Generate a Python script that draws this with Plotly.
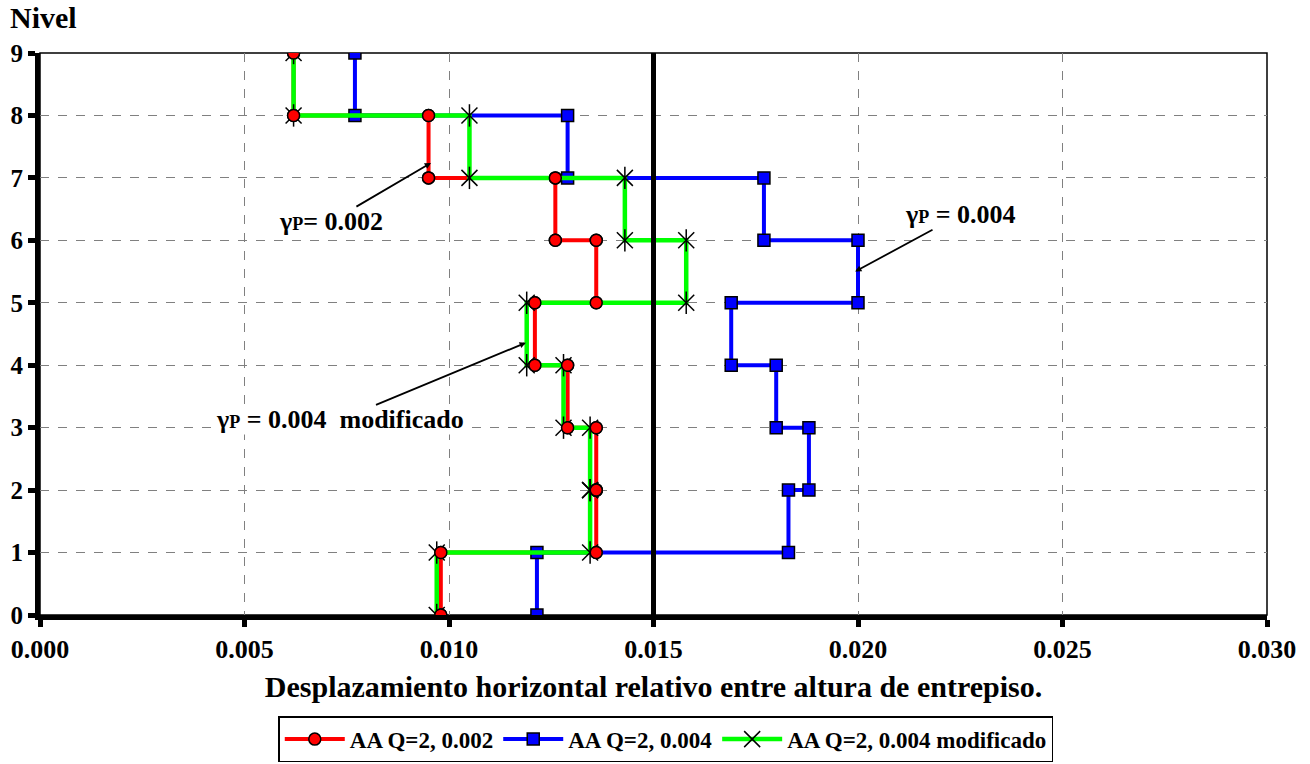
import plotly.graph_objects as go

# Storey levels
levels = [0, 1, 2, 3, 4, 5, 6, 7, 8, 9]

# Interstorey drift per storey (storey 1..9)
drift_002 = [0.0098, 0.0136, 0.0136, 0.0129, 0.0121, 0.0136, 0.0126, 0.0095, 0.0062]
drift_004 = [0.01215, 0.0183, 0.0188, 0.0180, 0.0169, 0.0200, 0.0177, 0.0129, 0.0077]
drift_004m = [0.0097, 0.01345, 0.01345, 0.0128, 0.0119, 0.0158, 0.0143, 0.0105, 0.0062]

names = ["AA Q=2, 0.002", "AA Q=2, 0.004", "AA Q=2, 0.004 modificado"]
x_ticks = [0.000, 0.005, 0.010, 0.015, 0.020, 0.025, 0.030]
LIMIT = 0.015

FONT = "Liberation Serif"


def steps(drifts):
    xs, ys = [], []
    for i, d in enumerate(drifts):
        xs += [d, d]
        ys += [levels[i], levels[i + 1]]
    return xs, ys


fig = go.Figure()

# limit line
fig.add_shape(type="line", xref="x", yref="y", x0=LIMIT, x1=LIMIT, y0=levels[0], y1=levels[-1],
              line=dict(color="black", width=5), layer="above")

x1, y1 = steps(drift_002)
x2, y2 = steps(drift_004)
x3, y3 = steps(drift_004m)

fig.add_trace(go.Scatter(x=x1, y=y1, mode="lines+markers", name="<b>" + names[0] + "</b>",
                         line=dict(color="#ff0000", width=4),
                         marker=dict(symbol="circle", size=12, color="#ff0000",
                                     line=dict(color="black", width=1.5))))
fig.add_trace(go.Scatter(x=x2, y=y2, mode="lines+markers", name="<b>" + names[1] + "</b>",
                         line=dict(color="#0000ff", width=4),
                         marker=dict(symbol="square", size=12, color="#0000ff",
                                     line=dict(color="black", width=1.5))))
fig.add_trace(go.Scatter(x=x3, y=y3, mode="lines+markers", name="<b>" + names[2] + "</b>",
                         line=dict(color="#00ff00", width=4.5),
                         marker=dict(symbol="x-thin-open", size=16, color="black",
                                     line=dict(color="black", width=1.5))))
# vertical stroke of the star markers
fig.add_trace(go.Scatter(x=x3, y=y3, mode="markers", showlegend=False, hoverinfo="skip",
                         marker=dict(symbol="line-ns-open", size=16, color="black",
                                     line=dict(color="black", width=1.5))))
# red markers on top
fig.add_trace(go.Scatter(x=x1, y=y1, mode="markers", showlegend=False, hoverinfo="skip",
                         marker=dict(symbol="circle", size=12, color="#ff0000",
                                     line=dict(color="black", width=1.5))))

# thin border top/right
fig.add_shape(type="rect", xref="paper", yref="paper", x0=0, x1=1, y0=0, y1=1,
              line=dict(color="black", width=1.5), layer="below")

ann_font = dict(family=FONT, size=26, color="black")
gp = "γ<span style='font-size:18px'>P</span>"
annots = [
    (gp + "= 0.002", 0.00711, 6.30, 0.00956, 7.24),
    (gp + " = 0.004", 0.0225, 6.41, 0.01993, 5.50),
    (gp + " = 0.004  modificado", 0.00733, 3.125, 0.01188, 4.36),
]
for text, tx, ty, px, py in annots:
    fig.add_annotation(x=px, y=py, ax=tx, ay=ty, axref="x", ayref="y", xref="x", yref="y",
                       text="<b>" + text + "</b>", showarrow=True, arrowhead=2, arrowsize=0.7,
                       arrowwidth=1.8, arrowcolor="black", font=ann_font, bgcolor="white",
                       borderpad=0)

fig.add_annotation(xref="paper", yref="paper", x=-0.026, y=1.03, xanchor="left", yanchor="bottom",
                   text="<b>Nivel</b>", showarrow=False, font=dict(family=FONT, size=30, color="black"))

fig.update_layout(
    width=1310, height=764,
    margin=dict(l=40, r=43, t=53, b=149, autoexpand=False),
    paper_bgcolor="white", plot_bgcolor="white",
    font=dict(family=FONT, color="black"),
    showlegend=True,
    legend=dict(orientation="h", x=0.51, xanchor="center", y=-0.18, yanchor="top",
                bordercolor="black", borderwidth=1.5, bgcolor="white",
                font=dict(family=FONT, size=23, color="black"), itemwidth=60,
                tracegroupgap=0),
    xaxis=dict(range=[x_ticks[0], x_ticks[-1]], tickvals=x_ticks,
               ticktext=["<b>%.3f</b>" % v for v in x_ticks],
               tickfont=dict(family=FONT, size=26, color="black"),
               showline=True, linewidth=5, linecolor="black", automargin=False,
               ticks="outside", ticklen=7, tickwidth=5, tickcolor="black",
               showgrid=True, gridcolor="#808080", griddash="dash", gridwidth=1,
               zeroline=False,
               title=dict(text="<b>Desplazamiento horizontal relativo entre altura de entrepiso.</b>",
                          font=dict(family=FONT, size=30, color="black"), standoff=14)),
    yaxis=dict(range=[levels[0], levels[-1]], tickvals=levels,
               ticktext=["<b>%d</b>" % v for v in levels],
               tickfont=dict(family=FONT, size=25, color="black"),
               showline=True, linewidth=5, linecolor="black", automargin=False,
               ticks="outside", ticklen=7, tickwidth=5, tickcolor="black",
               showgrid=True, gridcolor="#808080", griddash="dash", gridwidth=1,
               zeroline=False),
)

fig.write_html("out.html", config={"displayModeBar": False},
               post_script="document.body.style.margin='0';")
